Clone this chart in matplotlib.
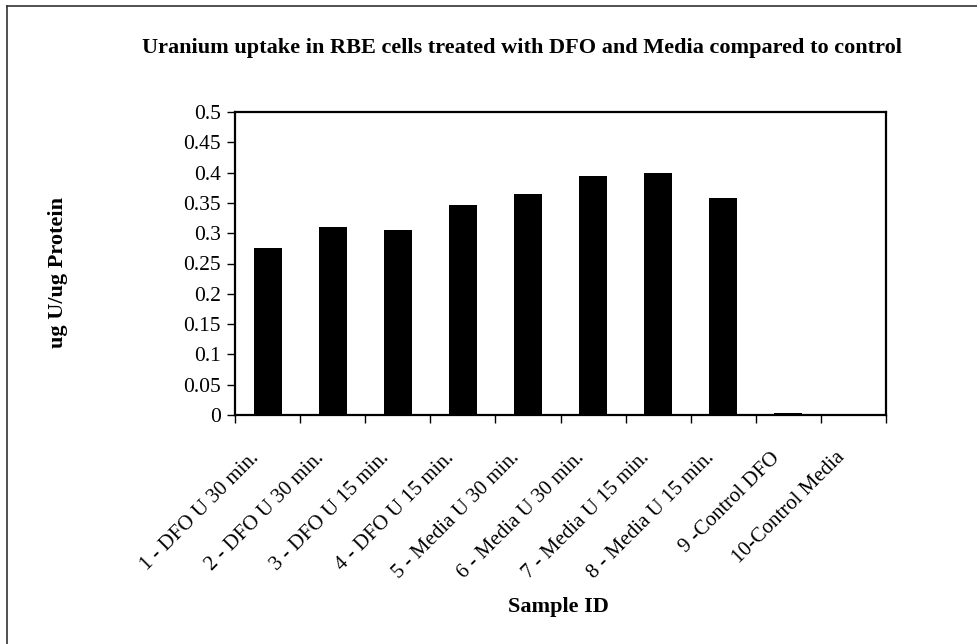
import numpy as np
import matplotlib.pyplot as plt
from matplotlib.lines import Line2D
from matplotlib.transforms import ScaledTranslation

samples = ["1 - DFO U 30 min.", "2 - DFO U 30 min.", "3 - DFO U 15 min.", "4 - DFO U 15 min.",
           "5 - Media U 30 min.", "6 - Media U 30 min.", "7 - Media U 15 min.", "8 - Media U 15 min.",
           "9 -Control DFO", "10-Control Media"]
uptake = [0.276, 0.310, 0.305, 0.347, 0.365, 0.394, 0.400, 0.358, 0.003, 0.0005]
y_ticks = [0, 0.05, 0.1, 0.15, 0.2, 0.25, 0.3, 0.35, 0.4, 0.45, 0.5]
y_tick_labels = ["0", "0.05", "0.1", "0.15", "0.2", "0.25", "0.3", "0.35", "0.4", "0.45", "0.5"]

plt.rcParams["font.family"] = ["Liberation Serif", "DejaVu Serif"]

W, H = 977, 644
fig = plt.figure(figsize=(W / 100, H / 100), dpi=100)
ax = fig.add_axes([235 / W, 1 - 415 / H, (886 - 235) / W, (415 - 112) / H])

x = np.arange(len(samples))
ax.bar(x, uptake, width=0.43, color="black")

ax.set_xlim(-0.5, len(samples) - 0.5)
ax.set_ylim(0, 0.5)
ax.set_yticks(y_ticks)
ax.set_yticklabels(y_tick_labels, fontsize=15.5)

# category ticks sit between bars, labels at bar centres
ax.set_xticks(np.arange(len(samples) + 1) - 0.5)
ax.set_xticklabels([])
ax.set_xticks(x, minor=True)
ax.set_xticklabels(samples, minor=True, rotation=45, ha="right", va="top",
                   rotation_mode="anchor", fontsize=15)
ax.tick_params(axis="x", which="minor", length=0, pad=24)
ax.tick_params(axis="x", which="major", length=6, direction="out", width=1)
ax.tick_params(axis="y", length=6, direction="out", width=1, pad=4)
shift = ScaledTranslation(-0.18, 0, fig.dpi_scale_trans)
for lab in ax.get_xticklabels(minor=True):
    lab.set_transform(lab.get_transform() + shift)
for s in ax.spines.values():
    s.set_linewidth(1.6)

fig.text(522 / W, 1 - 53 / H, "Uranium uptake in RBE cells treated with DFO and Media compared to control",
         ha="center", va="baseline", fontsize=16, fontweight="bold")
fig.text(58 / W, 1 - 273 / H, "ug U/ug Protein", rotation=90, ha="center", va="center",
         fontsize=16, fontweight="bold")
fig.text(558 / W, 1 - 607 / H, "Sample ID", ha="center", va="center",
         fontsize=16, fontweight="bold")

# scanned frame: only left and top edges remain visible
fig.add_artist(Line2D([7 / W, 7 / W], [0, 1 - 6 / H], transform=fig.transFigure,
                      color="#333333", linewidth=1.2))
fig.add_artist(Line2D([7 / W, 1], [1 - 6 / H, 1 - 6 / H], transform=fig.transFigure,
                      color="#333333", linewidth=1.2))

fig.savefig("out.png", dpi=100)
